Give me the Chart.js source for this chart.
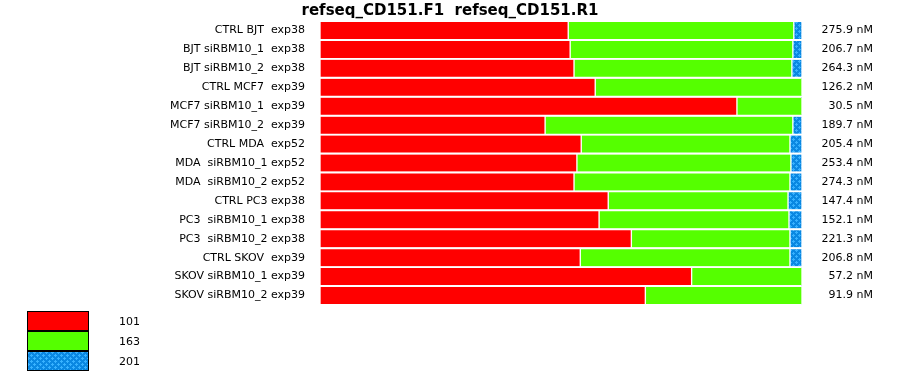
<!DOCTYPE html>
<html>
<head>
<meta charset="utf-8">
<title>refseq_CD151.F1  refseq_CD151.R1</title>
<script src="https://cdn.jsdelivr.net/npm/chart.js@4"></script>
<style>
body { margin: 0; background: #fff; }
#wrap { width: 900px; height: 375px; }
</style>
</head>
<body>
<div id="wrap"><canvas id="chart"></canvas></div>
<script>
var samples = [
    'CTRL BJT  exp38',
    'BJT siRBM10_1  exp38',
    'BJT siRBM10_2  exp38',
    'CTRL MCF7  exp39',
    'MCF7 siRBM10_1  exp39',
    'MCF7 siRBM10_2  exp39',
    'CTRL MDA  exp52',
    'MDA  siRBM10_1 exp52',
    'MDA  siRBM10_2 exp52',
    'CTRL PC3 exp38',
    'PC3  siRBM10_1 exp38',
    'PC3  siRBM10_2 exp38',
    'CTRL SKOV  exp39',
    'SKOV siRBM10_1 exp39',
    'SKOV siRBM10_2 exp39'
];
var concentrations = ['275.9', '206.7', '264.3', '126.2', '30.5', '189.7', '205.4', '253.4',
    '274.3', '147.4', '152.1', '221.3', '206.8', '57.2', '91.9'];

// share of each product per sample, in percent
var pct101 = [51.5, 51.9, 52.7, 57.1, 86.5, 46.7, 54.2, 53.3, 52.7, 59.8, 57.9, 64.6, 54.0, 77.1, 67.5];
var pct163 = [46.8, 46.2, 45.2, 42.9, 13.5, 51.4, 43.3, 44.4, 44.8, 37.3, 39.4, 32.9, 43.5, 22.9, 32.5];
var pct201 = [1.7, 1.9, 2.1, 0, 0, 1.9, 2.5, 2.3, 2.5, 2.9, 2.7, 2.5, 2.5, 0, 0];

var seriesNames = ['101', '163', '201'];
var chartTitle = 'refseq_CD151.F1  refseq_CD151.R1';

function makeDots() {
    var c = document.createElement('canvas');
    c.width = 6;
    c.height = 6;
    var g = c.getContext('2d');
    g.fillStyle = '#0a88e2';
    g.fillRect(0, 0, 6, 6);
    g.fillStyle = '#38b2ff';
    // small staggered crosses
    g.fillRect(1, 0, 1, 3);
    g.fillRect(0, 1, 3, 1);
    g.fillRect(4, 3, 1, 3);
    g.fillRect(3, 4, 3, 1);
    return g.createPattern(c, 'repeat');
}

var colors = ['#ff0000', '#55ff00', makeDots()];
var font = { family: 'DejaVu Sans', size: 11 };

// boxes in the lower left, like the original
var boxLegend = {
    id: 'boxLegend',
    afterDraw: function(chart) {
        var ctx = chart.ctx;
        var top = chart.chartArea.bottom + 6;
        ctx.save();
        ctx.font = '11px "DejaVu Sans"';
        ctx.textBaseline = 'middle';
        ctx.textAlign = 'left';
        chart.data.datasets.forEach(function(ds, i) {
            var y = top + i * 20;
            ctx.fillStyle = ds.backgroundColor;
            ctx.fillRect(27, y, 62, 20);
            ctx.strokeStyle = '#000';
            ctx.lineWidth = 1;
            ctx.strokeRect(27.5, y + 0.5, 61, 19);
            ctx.fillStyle = '#000';
            ctx.fillText(ds.label, 119, y + 11);
        });
        ctx.restore();
    }
};

var datasets = [pct101, pct163, pct201].map(function(values, i) {
    return {
        label: seriesNames[i],
        data: values,
        backgroundColor: colors[i],
        borderColor: '#ffffff',
        borderWidth: { left: 1, right: 1, top: 0, bottom: 0 },
        borderSkipped: false,
        barThickness: 17
    };
});

// no extra room for half labels at the ends of the y axes
function fixAxis(width) {
    return function(scale) {
        scale.width = width;
        scale.paddingTop = 0;
        scale.paddingBottom = 0;
    };
}

new Chart(document.getElementById('chart'), {
    type: 'bar',
    data: { labels: samples, datasets: datasets },
    plugins: [boxLegend],
    options: {
        indexAxis: 'y',
        responsive: true,
        maintainAspectRatio: false,
        animation: false,
        layout: { padding: { top: 0, left: 27, right: 27, bottom: 70 } },
        plugins: {
            legend: { display: false },
            tooltip: { enabled: false },
            title: {
                display: true,
                text: chartTitle,
                color: '#000',
                font: { family: 'DejaVu Sans', size: 15, weight: 'bold', lineHeight: 1.2 },
                padding: { top: 2, bottom: 1 }
            }
        },
        scales: {
            x: {
                display: false,
                stacked: true,
                min: 0,
                max: 100
            },
            y: {
                stacked: true,
                grid: { display: false, drawTicks: false },
                border: { display: false },
                ticks: { color: '#000', font: font, padding: 15, autoSkip: false },
                afterFit: fixAxis(293)
            },
            y2: {
                type: 'category',
                position: 'right',
                offset: true,
                labels: concentrations.map(function(v) { return v + ' nM'; }),
                grid: { display: false, drawTicks: false },
                border: { display: false },
                ticks: { color: '#000', font: font, padding: 0, crossAlign: 'far', autoSkip: false },
                afterFit: fixAxis(71)
            }
        }
    }
});
</script>
</body>
</html>
